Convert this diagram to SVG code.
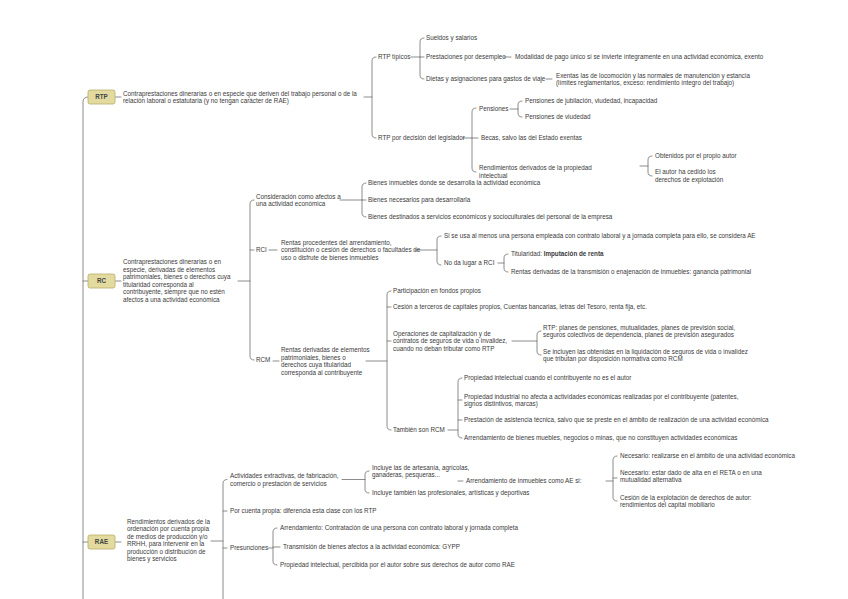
<svg xmlns="http://www.w3.org/2000/svg" width="848" height="599" viewBox="0 0 848 599">
<style>
.t{font-family:"Liberation Sans",Arial,sans-serif;font-size:6.3px;fill:#3a3a3a}
.b{font-weight:bold}
.k{font-family:"Liberation Sans",Arial,sans-serif;font-size:6.3px;font-weight:bold;fill:#444;text-anchor:middle}
.box{fill:#e3da9f;stroke:#b9ad68;stroke-width:0.8}
.c{fill:none;stroke:#6f6f6f;stroke-width:0.8;stroke-linecap:round}
</style>
<rect width="848" height="599" fill="#ffffff"/>
<g id="connectors">
<path class="c" d="M88,97 Q83,97 83,102 V599 M83,281 H88 M83,542 H88"/>
<path class="c" d="M115,97 H121 M115,281 H121 M115,542 H121"/>
<path class="c" d="M364,97 H372 M376,57 Q372,57 372,61 V134 Q372,138 376,138"/>
<path class="c" d="M411,57 H420 M424,38 Q420,38 420,42 V75 Q420,79 424,79 M420,57 H424 M504,57 H511 M546,79 H552"/>
<path class="c" d="M463,138 H472 M476,108 Q472,108 472,112 V168 Q472,172 476,172 M472,138 H478"/>
<path class="c" d="M510,109 H518 M522,101 Q518,101 518,105 V113 Q518,117 522,117"/>
<path class="c" d="M640,166 H648 M652,156 Q648,156 648,160 V172 Q648,176 652,176"/>
<path class="c" d="M238,281 H250 M254,200 Q250,200 250,204 V356 Q250,360 254,360 M250,250 H254"/>
<path class="c" d="M340,200 H362 M366,183 Q362,183 362,187 V213 Q362,217 366,217 M362,200 H366"/>
<path class="c" d="M269,250 H277 M415,250 H437 M441,236 Q437,236 437,240 V261 Q437,265 441,265"/>
<path class="c" d="M498,263 H504 M508,254 Q504,254 504,258 V268 Q504,272 508,272"/>
<path class="c" d="M273,361 H279 M366,361 H387 M391,291 Q387,291 387,295 V426 Q387,430 391,430 M387,307 H391 M387,341 H391"/>
<path class="c" d="M512,341 H537 M541,331 Q537,331 537,335 V351 Q537,355 541,355"/>
<path class="c" d="M448,430 H458 M462,378 Q458,378 458,382 V434 Q458,438 462,438 M458,400 H462 M458,420 H462"/>
<path class="c" d="M211,541 H223 M227,479.5 Q223,479.5 223,483.5 V599 M223,511 H227 M223,548 H227"/>
<path class="c" d="M342,479.5 H365 M369,471 Q365,471 365,475 V489 Q365,493 369,493 M458,481 H463"/>
<path class="c" d="M606,481 H613 M617,456 Q613,456 613,460 V497 Q613,501 617,501 M613,478 H617"/>
<path class="c" d="M268,548 H273 M277,528 Q273,528 273,532 V561 Q273,565 277,565 M273,547 H280"/>
</g>
<g id="rtp">
<rect class="box" x="88" y="90" width="27" height="14" rx="2"/>
<text class="k" x="101.5" y="99.3">RTP</text>
<text class="t" x="123" y="95.5">Contraprestaciones dinerarias o en especie que deriven del trabajo personal o de la</text>
<text class="t" x="123" y="103">relación laboral o estatutaria (y no tengan carácter de RAE)</text>
</g>
<g id="rtp-tipicos"><text class="t" x="378" y="59.2">RTP típicos</text></g>
<g id="sueldos"><text class="t" x="426" y="40.2">Sueldos y salarios</text></g>
<g id="desempleo"><text class="t" x="426" y="59.2">Prestaciones por desempleo</text></g>
<g id="pago-unico"><text class="t" x="515" y="59.2">Modalidad de pago único si se invierte íntegramente en una actividad económica, exento</text></g>
<g id="dietas"><text class="t" x="426" y="81.2">Dietas y asignaciones para gastos de viaje</text></g>
<g id="dietas-exentas"><text class="t" x="556" y="77.7">Exentas las de locomoción y las normales de manutención y estancia</text><text class="t" x="556" y="85.2">(límites reglamentarios, exceso: rendimiento íntegro del trabajo)</text></g>
<g id="rtp-legislador"><text class="t" x="378" y="140.2">RTP por decisión del legislador</text></g>
<g id="pensiones"><text class="t" x="479" y="111.2">Pensiones</text></g>
<g id="pens-jub"><text class="t" x="525" y="103.2">Pensiones de jubilación, viudedad, incapacidad</text></g>
<g id="pens-viu"><text class="t" x="525" y="119.2">Pensiones de viudedad</text></g>
<g id="becas"><text class="t" x="481" y="140.2">Becas, salvo las del Estado exentas</text></g>
<g id="prop-int"><text class="t" x="479" y="170.2">Rendimientos derivados de la propiedad</text><text class="t" x="479" y="177.7">intelectual</text></g>
<g id="propio-autor"><text class="t" x="655" y="158.2">Obtenidos por el propio autor</text></g>
<g id="autor-cedido"><text class="t" x="655" y="174.2">El autor ha cedido los</text><text class="t" x="655" y="181.7">derechos de explotación</text></g>
<g id="rc">
<rect class="box" x="88" y="274" width="27" height="14" rx="2"/>
<text class="k" x="101.5" y="283.3">RC</text>
<text class="t" x="123" y="264.2">Contraprestaciones dinerarias o en</text>
<text class="t" x="123" y="271.7">especie, derivadas de elementos</text>
<text class="t" x="123" y="279.2">patrimoniales, bienes o derechos cuya</text>
<text class="t" x="123" y="286.7">titularidad corresponda al</text>
<text class="t" x="123" y="294.2">contribuyente, siempre que no estén</text>
<text class="t" x="123" y="301.7">afectos a una actividad económica</text>
</g>
<g id="consideracion"><text class="t" x="256" y="198.5">Consideración como afectos a</text><text class="t" x="256" y="206">una actividad económica</text></g>
<g id="inmuebles"><text class="t" x="368" y="185.2">Bienes inmuebles donde se desarrolla la actividad económica</text></g>
<g id="necesarios"><text class="t" x="368" y="202.2">Bienes necesarios para desarrollarla</text></g>
<g id="destinados"><text class="t" x="368" y="219.2">Bienes destinados a servicios económicos y socioculturales del personal de la empresa</text></g>
<g id="rci"><text class="t" x="256" y="252.2">RCI</text></g>
<g id="rci-def"><text class="t" x="281" y="244.7">Rentas procedentes del arrendamiento,</text><text class="t" x="281" y="252.2">constitución o cesión de derechos o facultades de</text><text class="t" x="281" y="259.7">uso o disfrute de bienes inmuebles</text></g>
<g id="persona-empleada"><text class="t" x="444" y="238.2">Si se usa al menos una persona empleada con contrato laboral y a jornada completa para ello, se considera AE</text></g>
<g id="no-rci"><text class="t" x="444" y="265.2">No da lugar a RCI</text></g>
<g id="titularidad"><text class="t" x="511" y="256.2">Titularidad: <tspan class="b">Imputación de renta</tspan></text></g>
<g id="transmision"><text class="t" x="511" y="274.2">Rentas derivadas de la transmisión o enajenación de inmuebles: ganancia patrimonial</text></g>
<g id="rcm"><text class="t" x="256" y="362.2">RCM</text></g>
<g id="rcm-def"><text class="t" x="281" y="352">Rentas derivadas de elementos</text><text class="t" x="281" y="359.5">patrimoniales, bienes o</text><text class="t" x="281" y="367">derechos cuya titularidad</text><text class="t" x="281" y="374.5">corresponda al contribuyente</text></g>
<g id="fondos-propios"><text class="t" x="393" y="293.2">Participación en fondos propios</text></g>
<g id="cesion"><text class="t" x="393" y="309.2">Cesión a terceros de capitales propios, Cuentas bancarias, letras del Tesoro, renta fija, etc.</text></g>
<g id="capitalizacion"><text class="t" x="393" y="335.7">Operaciones de capitalización y de</text><text class="t" x="393" y="343.2">contratos de seguros de vida o invalidez,</text><text class="t" x="393" y="350.7">cuando no deban tributar como RTP</text></g>
<g id="planes"><text class="t" x="543" y="329.5">RTP: planes de pensiones, mutualidades, planes de previsión social,</text><text class="t" x="543" y="337">seguros colectivos de dependencia, planes de previsión asegurados</text></g>
<g id="seguros"><text class="t" x="543" y="353.5">Se incluyen las obtenidas en la liquidación de seguros de vida o invalidez</text><text class="t" x="543" y="361">que tributan por disposición normativa como RCM</text></g>
<g id="tambien-rcm"><text class="t" x="393" y="432.2">También son RCM</text></g>
<g id="intelectual"><text class="t" x="464" y="380.2">Propiedad intelectual cuando el contribuyente no es el autor</text></g>
<g id="industrial"><text class="t" x="464" y="398.5">Propiedad industrial no afecta a actividades económicas realizadas por el contribuyente (patentes,</text><text class="t" x="464" y="406">signos distintivos, marcas)</text></g>
<g id="asistencia"><text class="t" x="464" y="422.2">Prestación de asistencia técnica, salvo que se preste en el ámbito de realización de una actividad económica</text></g>
<g id="arrendamiento-muebles"><text class="t" x="464" y="440.2">Arrendamiento de bienes muebles, negocios o minas, que no constituyen actividades económicas</text></g>
<g id="rae">
<rect class="box" x="88" y="535" width="27" height="14" rx="2"/>
<text class="k" x="101.5" y="544.3">RAE</text>
<text class="t" x="127" y="523.5">Rendimientos derivados de la</text>
<text class="t" x="127" y="531">ordenación por cuenta propia</text>
<text class="t" x="127" y="538.5">de medios de producción y/o</text>
<text class="t" x="127" y="546">RRHH, para intervenir en la</text>
<text class="t" x="127" y="553.5">producción o distribución de</text>
<text class="t" x="127" y="561">bienes y servicios</text>
</g>
<g id="actividades"><text class="t" x="230" y="478">Actividades extractivas, de fabricación,</text><text class="t" x="230" y="485.5">comercio o prestación de servicios</text></g>
<g id="incluye"><text class="t" x="372" y="469.5">Incluye las de artesanía, agrícolas,</text><text class="t" x="372" y="477">ganaderas, pesqueras...</text></g>
<g id="profesionales"><text class="t" x="466" y="483.2">Arrendamiento de inmuebles como AE si:</text></g>
<g id="incluye-tambien"><text class="t" x="372" y="495.2">Incluye también las profesionales, artísticas y deportivas</text></g>
<g id="necesario-1"><text class="t" x="620" y="458.2">Necesario: realizarse en el ámbito de una actividad económica</text></g>
<g id="necesario-2"><text class="t" x="620" y="474.5">Necesario: estar dado de alta en el RETA o en una</text><text class="t" x="620" y="482">mutualidad alternativa</text></g>
<g id="cesion-explotacion"><text class="t" x="620" y="499.5">Cesión de la explotación de derechos de autor:</text><text class="t" x="620" y="507">rendimientos del capital mobiliario</text></g>
<g id="cuenta-propia"><text class="t" x="230" y="513.2">Por cuenta propia: diferencia esta clase con los RTP</text></g>
<g id="presunciones"><text class="t" x="230" y="550.2">Presunciones</text></g>
<g id="pres-arrend"><text class="t" x="280" y="530.2">Arrendamiento: Contratación de una persona con contrato laboral y jornada completa</text></g>
<g id="pres-transm"><text class="t" x="283" y="549.2">Transmisión de bienes afectos a la actividad económica: GYPP</text></g>
<g id="pres-prop"><text class="t" x="280" y="567.2">Propiedad intelectual, percibida por el autor sobre sus derechos de autor como RAE</text></g>
</svg>
